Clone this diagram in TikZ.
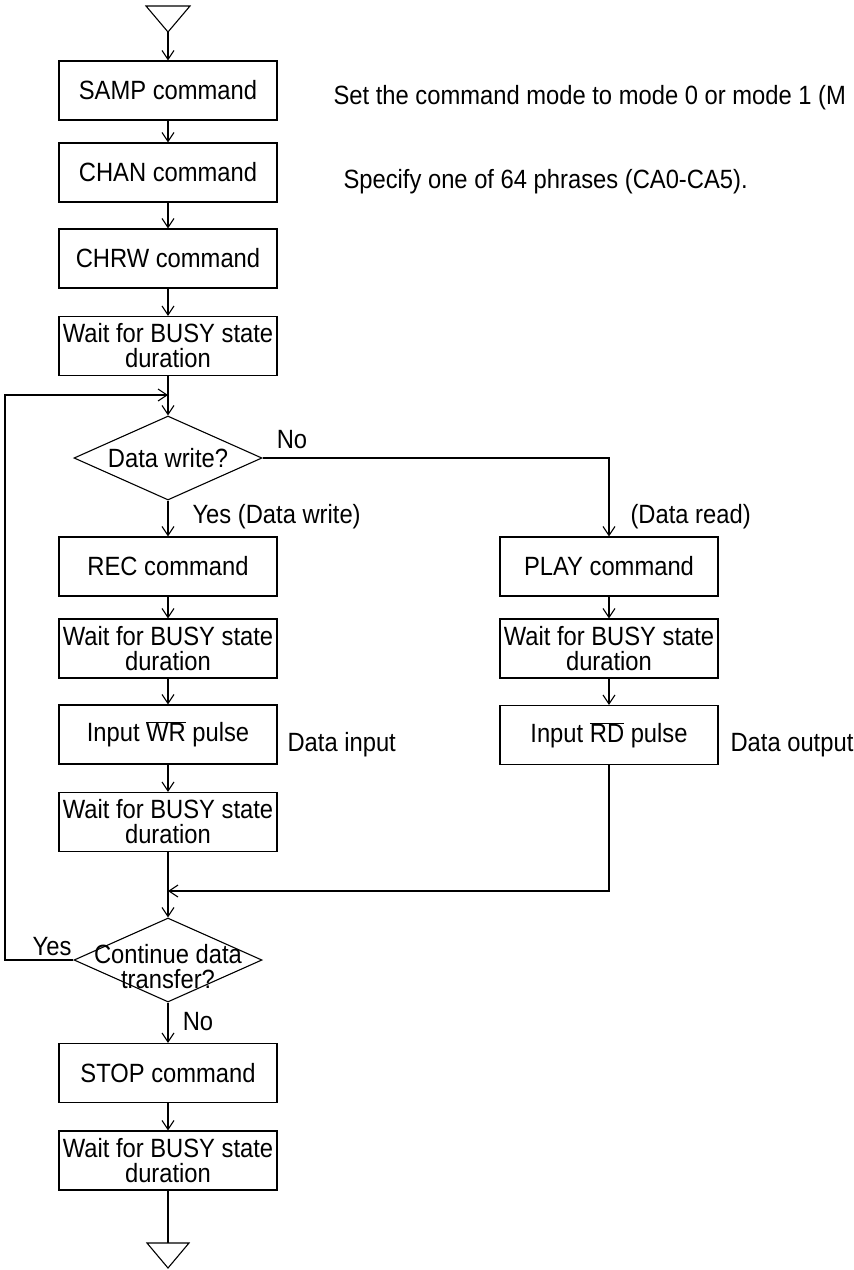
\documentclass[tikz,border=0pt]{standalone}
\usepackage{fontspec}
\setmainfont[FakeStretch=0.9]{Liberation Sans}
\usetikzlibrary{arrows.meta,shapes.geometric}
\newcommand\myfs{\fontsize{26.4}{25}\selectfont}
\begin{document}
\begin{tikzpicture}[x=1pt,y=-1pt, line width=1.1pt,
  box/.style={draw, minimum width=218pt, minimum height=59pt, inner sep=0pt, align=center, font=\myfs},
  dia/.style={draw, diamond, minimum width=188pt, minimum height=84pt, inner sep=0pt},
  txt/.style={font=\myfs, inner sep=0pt},
  arr/.style={-{Straight Barb[length=9pt,width=12pt]}}]
\useasboundingbox (0,0) rectangle (854,1270);
\clip (0,0) rectangle (854,1270);
% start terminal
\draw (146,6) -- (190,6) -- (168,32) -- cycle;
\coordinate (st) at (168,32);
% left column
\node[box] (samp) at (168,90.5) {SAMP command};
\node[box] (chan) at (168,172.5) {CHAN command};
\node[box] (chrw) at (168,258.5) {CHRW command};
\node[box] (w1) at (168,346) {Wait for BUSY state\\duration};
\coordinate (j1) at (168,395);
\node[dia] (d1) at (168,458) {};
\node[txt] (d1t) at (168,458) {Data write?};
\node[box] (rec) at (168,566.5) {REC command};
\node[box] (w2) at (168,648.5) {Wait for BUSY state\\duration};
\node[box] (wr) at (168,734.5) {Input \(\overline{\mbox{WR}}\) pulse};
\node[box] (w3) at (168,822) {Wait for BUSY state\\duration};
\coordinate (m) at (168,891);
\node[dia] (d2) at (168,960) {};
\node[txt, align=center] (d2t) at (168,967) {Continue data\\transfer?};
\node[box] (stop) at (168,1073) {STOP command};
\node[box] (w4) at (168,1160.5) {Wait for BUSY state\\duration};
\coordinate (en) at (168,1243);
\draw (147,1243) -- (189,1243) -- (168,1268) -- cycle;
% right column
\node[box] (play) at (609,566.5) {PLAY command};
\node[box] (wR) at (609,648.5) {Wait for BUSY state\\duration};
\node[box] (rd) at (609,735) {Input \(\overline{\mbox{RD}}\) pulse};
% connectors
\draw[arr] (st) -- (samp);
\draw[arr] (samp) -- (chan);
\draw[arr] (chan) -- (chrw);
\draw[arr] (chrw) -- (w1);
\draw[arr] (w1) -- (d1);
\draw[arr] (d1) -- (rec);
\draw[arr] (rec) -- (w2);
\draw[arr] (w2) -- (wr);
\draw[arr] (wr) -- (w3);
\draw[arr] (w3) -- (d2);
\draw[arr] (d2) -- (stop);
\draw[arr] (stop) -- (w4);
\draw (w4) -- (en);
\draw[arr] (d1.east) -| (play.north);
\draw[arr] (play) -- (wR);
\draw[arr] (wR) -- (rd);
\draw[arr] (rd.south) |- (m);
\coordinate (lp) at (5,960);
\draw[arr] (d2.west) -- (lp) |- (j1);
% labels
\node[txt] (no1) at (292,440) {No};
\node[txt, anchor=west] (yes1) at (192,517) {Yes (Data write)};
\node[txt, anchor=west] (rdl) at (630,517) {(Data read)};
\node[txt] (yes2) at (52,947) {Yes};
\node[txt] (no2) at (198,1022) {No};
\node[txt, anchor=west] (din) at (287,745) {Data input};
\node[txt, anchor=west] (dout) at (730,745) {Data output};
\node[txt, anchor=west] (n1) at (333,98) {Set the command mode to mode 0 or mode 1 (M};
\node[txt, anchor=west] (n2) at (343,182) {Specify one of 64 phrases (CA0-CA5).};
\end{tikzpicture}
\end{document}
